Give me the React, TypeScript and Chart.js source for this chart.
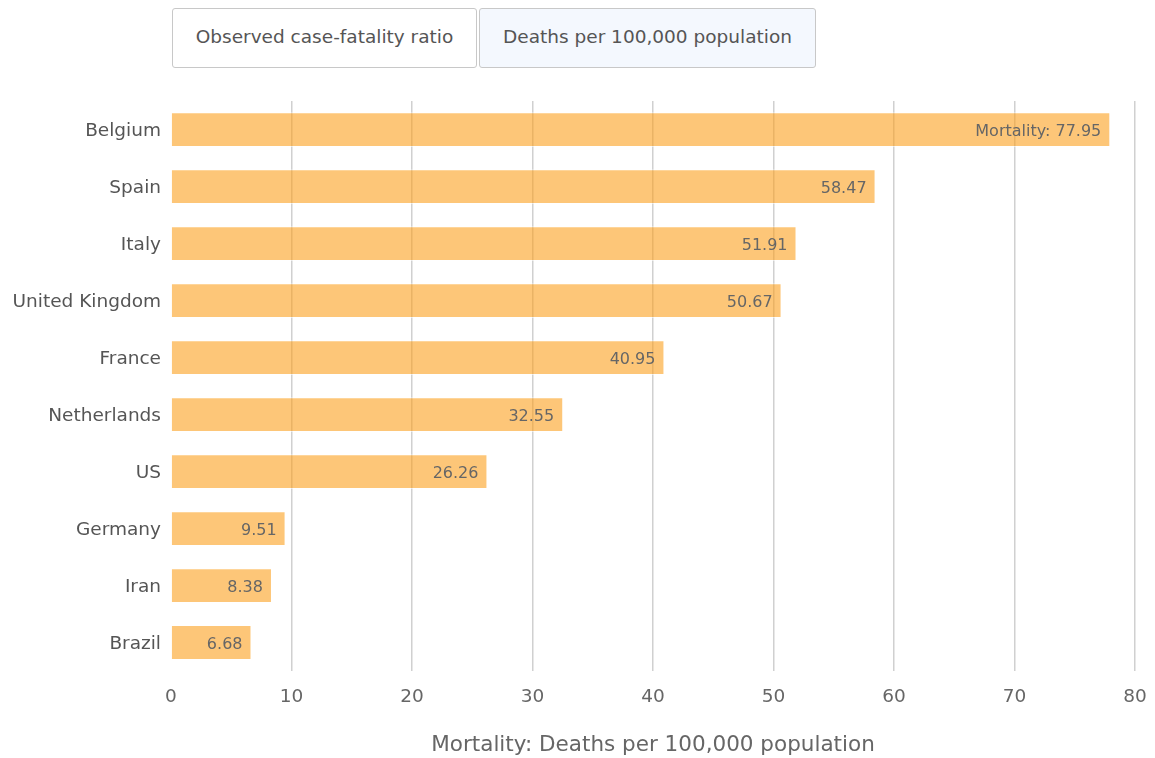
import React, { useEffect, useRef } from "react";
import { Chart, registerables } from "chart.js";

Chart.register(...registerables);

const countries = ["Belgium", "Spain", "Italy", "United Kingdom", "France", "Netherlands", "US", "Germany", "Iran", "Brazil"];
const deathsPer100k = [77.95, 58.47, 51.91, 50.67, 40.95, 32.55, 26.26, 9.51, 8.38, 6.68];
const xTicks = [0, 10, 20, 30, 40, 50, 60, 70, 80];
const buttonLabels = ["Observed case-fatality ratio", "Deaths per 100,000 population"];
const axisTitle = "Mortality: Deaths per 100,000 population";
const FONT = "'DejaVu Sans', sans-serif";

const valueLabels = {
  id: "valueLabels",
  afterDatasetsDraw(chart: any) {
    const { ctx } = chart;
    const meta = chart.getDatasetMeta(0);
    ctx.save();
    ctx.font = `16px ${FONT}`;
    ctx.fillStyle = "#666";
    ctx.textAlign = "right";
    ctx.textBaseline = "middle";
    meta.data.forEach((bar: any, i: number) => {
      const v = deathsPer100k[i].toFixed(2);
      const text = i === 0 ? `Mortality: ${v}` : v;
      ctx.fillText(text, bar.x - 9, bar.y + 2);
    });
    ctx.restore();
  },
};

export default function App() {
  const ref = useRef<HTMLCanvasElement>(null);
  useEffect(() => {
    if (!ref.current) return;
    const chart = new Chart(ref.current, {
      type: "bar",
      data: {
        labels: countries,
        datasets: [
          {
            data: deathsPer100k,
            backgroundColor: "rgba(252,160,30,0.6)",
            borderColor: "rgba(255,255,255,0.5)",
            borderWidth: 1,
            barPercentage: 0.61,
            categoryPercentage: 1,
          },
        ],
      },
      options: {
        indexAxis: "y",
        animation: false,
        responsive: true,
        maintainAspectRatio: false,
        layout: { padding: { top: 21, right: 20, left: 0, bottom: 0 } },
        plugins: { legend: { display: false }, tooltip: { enabled: false } },
        scales: {
          x: {
            min: 0,
            max: 80,
            afterBuildTicks: (s: any) => {
              s.ticks = xTicks.map((v) => ({ value: v }));
            },
            afterFit: (s: any) => {
              s.height = 87;
              s.paddingLeft = 0;
              s.paddingRight = 0;
            },
            border: { display: false },
            grid: {
              color: (c: any) => (c.tick && c.tick.value === 0 ? "rgba(0,0,0,0)" : "#d0d0d0"),
              lineWidth: 1.5,
              drawTicks: false,
            },
            ticks: { color: "#666", font: { family: FONT, size: 18.5 }, padding: 15 },
            title: {
              display: true,
              text: axisTitle,
              color: "#666",
              font: { family: FONT, size: 21.5 },
              padding: { top: 0, bottom: 0 },
            },
          },
          y: {
            afterFit: (s: any) => {
              s.width = 171;
            },
            border: { display: false },
            grid: { display: false, drawTicks: false },
            ticks: { color: "#555", font: { family: FONT, size: 18.5 }, padding: 10, labelOffset: 2 },
          },
        },
      },
      plugins: [valueLabels],
    } as any);
    return () => chart.destroy();
  }, []);

  const btn = (left: number, width: number, bg: string): React.CSSProperties => ({
    position: "absolute",
    left,
    top: 8,
    width,
    height: 60,
    boxSizing: "border-box",
    border: "1px solid #c8c8c8",
    borderRadius: 3,
    background: bg,
    color: "#555",
    fontFamily: FONT,
    fontSize: 18.5,
    display: "flex",
    alignItems: "center",
    justifyContent: "center",
    paddingBottom: 3,
  });

  return (
    <div style={{ position: "absolute", left: 0, top: 0, width: 1155, height: 758, background: "#fff" }}>
      <div style={btn(172, 305, "#fff")}>{buttonLabels[0]}</div>
      <div style={btn(479, 337, "#f4f8fe")}>{buttonLabels[1]}</div>
      <div style={{ position: "absolute", left: 0, top: 80, width: 1155, height: 678 }}>
        <canvas ref={ref} />
      </div>
    </div>
  );
}
